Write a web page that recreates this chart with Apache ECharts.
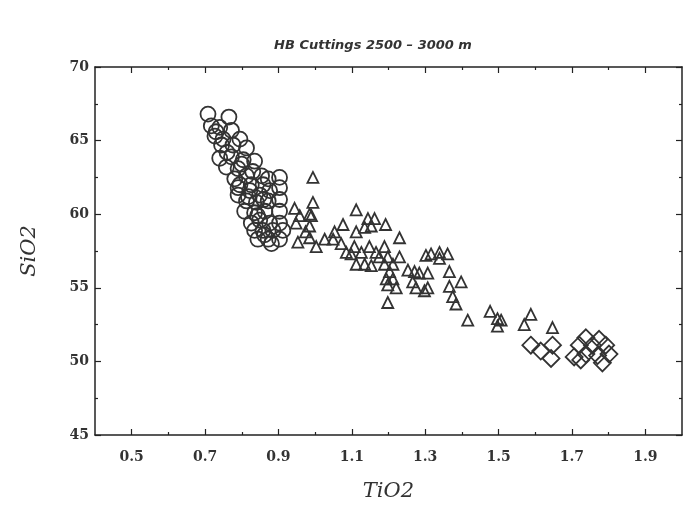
<!DOCTYPE html>
<html>
<head>
<meta charset="utf-8">
<script src="https://cdn.jsdelivr.net/npm/echarts@6/dist/echarts.min.js"></script>
<style>html,body{margin:0;padding:0;background:#fff}#c{width:683px;height:507px}</style>
</head>
<body>
<div id="c"></div>
<script>
// TiO2 vs SiO2 — HB Cuttings 2500–3000 m
const titleText = 'HB Cuttings 2500 \u2013 3000 m';
const xName = 'TiO2';
const yName = 'SiO2';
const xMajorTicks = [0.5, 0.7, 0.9, 1.1, 1.3, 1.5, 1.7, 1.9];
const xMinorTicks = [0.6, 0.8, 1.0, 1.2, 1.4, 1.6, 1.8];

// circles group
const circlePts = [
  [0.708,66.8],[0.765,66.6],[0.717,66.0],[0.740,65.9],[0.772,65.7],[0.727,65.3],
  [0.749,65.1],[0.795,65.1],[0.745,64.7],[0.776,64.7],[0.813,64.5],[0.740,63.8],
  [0.772,63.9],[0.804,63.7],[0.835,63.6],[0.758,63.2],[0.790,63.1],[0.781,62.4],
  [0.813,62.6],[0.854,62.6],[0.872,62.4],[0.903,62.5],[0.795,62.0],[0.826,62.0],
  [0.858,62.0],[0.790,61.3],[0.822,61.6],[0.849,61.3],[0.876,61.6],[0.903,61.8],
  [0.813,60.9],[0.840,60.8],[0.872,60.9],[0.903,61.0],[0.808,60.2],[0.835,60.1],
  [0.863,60.2],[0.903,60.2],[0.826,59.4],[0.849,59.6],[0.876,59.4],[0.903,59.4],
  [0.835,58.9],[0.858,58.9],[0.885,58.9],[0.912,58.9],[0.844,58.3],[0.872,58.3],
  [0.903,58.3],[0.881,58.0],[0.760,64.2],[0.800,63.4],[0.830,62.9],[0.790,61.8],
  [0.860,61.0],[0.843,59.9],[0.862,58.6],[0.730,65.6],[0.818,61.2]
];

// triangles group
const trianglePts = [
  [0.994,62.5],[0.944,60.4],[0.994,60.8],[0.958,59.9],[0.985,60.0],[0.985,59.2],
  [0.953,58.1],[0.985,58.4],[1.003,57.8],[1.026,58.3],[1.049,58.3],[1.053,58.8],
  [1.076,59.3],[1.071,58.0],[1.112,60.3],[1.112,58.8],[1.135,59.1],[1.144,59.7],
  [1.162,59.7],[1.153,59.2],[1.192,59.3],[1.230,58.4],[1.085,57.4],[1.107,57.8],
  [1.098,57.3],[1.126,57.4],[1.112,56.6],[1.135,56.6],[1.153,56.5],[1.148,57.8],
  [1.166,57.4],[1.189,57.8],[1.175,57.1],[1.198,57.1],[1.189,56.6],[1.212,56.6],
  [1.230,57.1],[1.203,56.1],[1.194,55.6],[1.212,55.6],[1.198,55.2],[1.221,55.0],
  [1.198,54.0],[1.253,56.2],[1.271,56.1],[1.284,56.0],[1.307,56.0],[1.266,55.4],
  [1.275,55.0],[1.298,54.8],[1.307,55.0],[1.302,57.2],[1.316,57.3],[1.339,57.4],
  [1.361,57.3],[1.339,57.0],[1.366,56.1],[1.366,55.1],[1.398,55.4],[1.375,54.4],
  [1.384,53.9],[1.416,52.8],[1.477,53.4],[1.497,52.9],[1.497,52.4],[1.507,52.8],
  [1.588,53.2],[1.570,52.5],[1.647,52.3],[0.990,59.9],[0.948,59.4],[0.974,58.8]
];

// diamonds group
const diamondPts = [
  [1.588,51.1],[1.615,50.7],[1.647,51.1],[1.643,50.2],
  [1.738,51.6],[1.774,51.5],[1.792,51.1],[1.720,51.1],[1.756,51.1],[1.706,50.3],
  [1.738,50.5],[1.770,50.4],[1.783,49.9],[1.724,50.1],[1.801,50.5]
];

const ink = '#333';
const axisInk = '#222';
const labelFont = {fontFamily: 'DejaVu Serif', fontWeight: 'bold', fontSize: 14, color: '#333'};

const chart = echarts.init(document.getElementById('c'), null, {renderer: 'canvas'});
const grid = {left: 95, right: 1, top: 67, bottom: 67};

const fmt = v => (Math.round(v * 10) / 10).toFixed(1);
const baseX = {type: 'value', min: 0.4, max: 2.0, interval: 0.1, splitLine: {show: false}};
const markStyle = {color: 'rgba(255,255,255,0)', borderColor: ink, borderWidth: 1.8, opacity: 1};

chart.setOption({
  animation: false,
  backgroundColor: '#fff',
  title: {
    text: titleText, left: 368, top: 34, textAlign: 'center',
    textStyle: {fontFamily: 'DejaVu Sans', fontStyle: 'italic', fontWeight: 'bold', fontSize: 13, color: '#333'}
  },
  grid: grid,
  xAxis: [
    Object.assign({}, baseX, {
      position: 'bottom',
      name: xName, nameLocation: 'middle', nameGap: 46,
      nameTextStyle: {fontFamily: 'DejaVu Serif', fontStyle: 'italic', fontSize: 21, color: '#333'},
      axisLine: {show: true, onZero: false, lineStyle: {color: axisInk, width: 1.5}},
      axisTick: {show: true, inside: true, length: 6, customValues: xMajorTicks, lineStyle: {color: axisInk, width: 1.2}},
      axisLabel: Object.assign({show: true, margin: 15, customValues: xMajorTicks, formatter: fmt}, labelFont)
    }),
    Object.assign({}, baseX, {
      position: 'bottom',
      axisLine: {show: false},
      axisTick: {show: true, inside: true, length: 3, customValues: xMinorTicks, lineStyle: {color: axisInk, width: 1.2}},
      axisLabel: {show: false}
    }),
    Object.assign({}, baseX, {
      position: 'top',
      axisLine: {show: true, onZero: false, lineStyle: {color: axisInk, width: 1.5}},
      axisTick: {show: true, inside: true, length: 6, customValues: xMajorTicks, lineStyle: {color: axisInk, width: 1.2}},
      axisLabel: {show: false}
    }),
    Object.assign({}, baseX, {
      position: 'top',
      axisLine: {show: false},
      axisTick: {show: true, inside: true, length: 3, customValues: xMinorTicks, lineStyle: {color: axisInk, width: 1.2}},
      axisLabel: {show: false}
    })
  ],
  yAxis: [
    {
      type: 'value', min: 45, max: 70, interval: 5, position: 'left',
      name: yName, nameLocation: 'middle', nameGap: 55, nameRotate: 90,
      nameTextStyle: {fontFamily: 'DejaVu Serif', fontStyle: 'italic', fontSize: 21, color: '#333'},
      axisLine: {show: true, onZero: false, lineStyle: {color: axisInk, width: 1.5}},
      axisTick: {show: true, inside: true, length: 6, lineStyle: {color: axisInk, width: 1.2}},
      minorTick: {show: true, splitNumber: 2, length: 3, lineStyle: {color: axisInk, width: 1.2}},
      axisLabel: Object.assign({show: true, margin: 6}, labelFont),
      splitLine: {show: false}
    },
    {
      type: 'value', min: 45, max: 70, interval: 5, position: 'right',
      axisLine: {show: true, onZero: false, lineStyle: {color: axisInk, width: 1.5}},
      axisTick: {show: true, inside: true, length: 6, lineStyle: {color: axisInk, width: 1.2}},
      minorTick: {show: true, splitNumber: 2, length: 3, lineStyle: {color: axisInk, width: 1.2}},
      axisLabel: {show: false},
      splitLine: {show: false}
    }
  ],
  series: [
    {
      type: 'scatter', name: 'circles', data: circlePts, symbol: 'circle', symbolSize: 15,
      itemStyle: markStyle
    },
    {
      type: 'scatter', name: 'triangles', data: trianglePts, symbol: 'triangle', symbolSize: 11,
      itemStyle: markStyle
    },
    {
      type: 'scatter', name: 'diamonds', data: diamondPts, symbol: 'diamond', symbolSize: 17,
      itemStyle: markStyle
    }
  ]
});
</script>
</body>
</html>
